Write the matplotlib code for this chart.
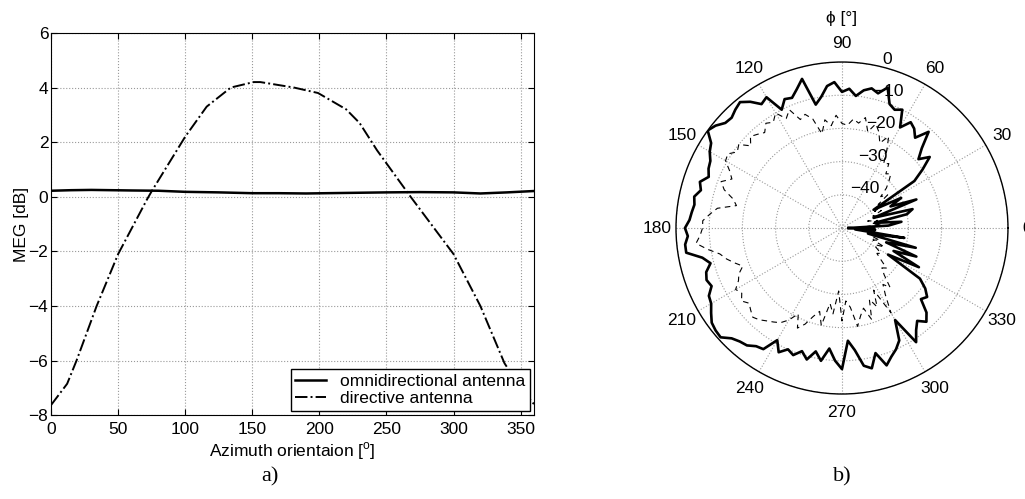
import numpy as np
import matplotlib
matplotlib.use('Agg')
import matplotlib.pyplot as plt

plt.rcParams['font.family'] = ['Liberation Sans', 'DejaVu Sans']
plt.rcParams['mathtext.fontset'] = 'custom'
plt.rcParams['mathtext.rm'] = 'Liberation Sans'

# a) MEG vs azimuth orientation
AZ_DIR = [0, 12, 19, 34, 50, 71.5, 75, 100, 116, 134, 151, 156, 181, 199,
          220, 230, 243, 268, 300, 320, 338, 350, 360]
MEG_DIR = [-7.63, -6.85, -6.0, -4.0, -2.1, -0.1, 0.2, 2.2, 3.3, 4.0, 4.2,
           4.2, 4.0, 3.8, 3.2, 2.7, 1.7, 0.0, -2.1, -4.0, -6.1, -7.0, -7.6]
AZ_OMNI = [0, 15, 30, 45, 60, 80, 100, 125, 150, 170, 190, 220, 250, 275,
           300, 320, 340, 360]
MEG_OMNI = [0.22, 0.24, 0.25, 0.24, 0.23, 0.22, 0.18, 0.16, 0.13, 0.13,
            0.12, 0.14, 0.16, 0.17, 0.16, 0.12, 0.16, 0.21]

# b) polar patterns, one value every 3 degrees (dB)
PHI_STEP = 3
GAIN_SOLID = [
    -48, -36, -32, -40, -30, -28, -40, -26, -34, -30, -39, -24, -20, -16,
    -19, -16, -11, -15, -13, -12, -15, -10, -11, -10, -5.5, -8, -7, -8,
    -10, -8, -9, -6, -7, -10, -12, -3.5, -6, -8, -7.5, -10, -4.5, -5.5,
    -3, -1.2, -2, -3, -2.7, -1, 0, -3, -4, -5.5, -6, -7, -5, -6, -4.5,
    -5, -4.5, -4, -2.7, -3.5, -2.5, -2.5, -7, -9, -7, -6.3, -7, -5, -4.5,
    -3, -1.5, -1, -0.8, -3, -4, -4.5, -6, -6.5, -11, -8, -10, -9, -11,
    -9, -12, -9.5, -13.5, -10, -7.5, -16, -13, -8, -6.8, -11, -6.5, -8.5,
    -10, -12, -18, -9, -12, -14, -12, -14, -18, -17, -19, -22, -34, -24,
    -33, -26, -36, -27, -42, -31, -46, -40]
GAIN_DASHED = [
    -40, -43, -38, -41, -39, -42, -38, -40, -37, -39, -35, -37, -33, -35,
    -32, -30, -28, -29, -26, -27, -23, -19, -22, -19, -17, -20, -16, -18,
    -17, -19, -18.5, -16, -19, -17, -21, -16, -14, -15, -11, -13, -10, -12,
    -11, -13, -12, -11, -13, -10, -11, -9, -9.5, -12, -13.7, -11, -12.7,
    -16, -17.5, -12, -10, -8, -8, -7.2, -5.8, -9, -12.4, -14, -16, -18,
    -16, -15, -13, -14, -12.6, -14, -13, -12, -12.8, -14, -15, -16, -18,
    -21, -17, -19, -22, -24, -20, -27, -24, -31, -22, -28, -26, -20, -23,
    -25, -21, -27, -24, -29, -20.5, -26, -29, -27, -31, -33, -32, -35,
    -37, -36, -38, -39, -36, -40, -38, -41, -39, -42, -40, -43]

FS = 12.5


def main():
    fig = plt.figure(figsize=(10.25, 4.99), dpi=100)

    ax = fig.add_axes([0.0498, 0.168, 0.4712, 0.766])
    ax.plot(AZ_OMNI, MEG_OMNI, 'k-', lw=1.8, label='omnidirectional antenna')
    ax.plot(AZ_DIR, MEG_DIR, 'k-.', lw=1.4, label='directive antenna')
    ax.set_xlim(0, 360)
    ax.set_ylim(-8, 6)
    ax.set_xticks(range(0, 360, 50))
    ax.set_yticks(range(-8, 7, 2))
    ax.tick_params(direction='in', top=True, right=True, labelsize=FS,
                   length=4, pad=2)
    ax.tick_params(axis='x', pad=5)
    ax.grid(True, ls=':', color='#999999', lw=0.8)
    ax.set_xlabel('Azimuth orientaion [$^{\\mathrm{o}}$]', fontsize=FS,
                  labelpad=2)
    ax.set_ylabel('MEG [dB]', fontsize=FS, labelpad=0)
    leg = ax.legend(loc='lower right', fontsize=FS, fancybox=False,
                    edgecolor='k', framealpha=1, handlelength=1.8,
                    borderaxespad=0.25, borderpad=0.25, labelspacing=0.15,
                    handletextpad=0.8)
    leg.get_frame().set_linewidth(1.0)

    # b) polar plot
    phi = np.deg2rad(np.arange(0, 360 + PHI_STEP, PHI_STEP))
    solid = np.array(GAIN_SOLID + GAIN_SOLID[:1])
    dashed = np.array(GAIN_DASHED + GAIN_DASHED[:1])

    pax = fig.add_axes([0.6595, 0.2104, 0.3239, 0.6653], projection='polar')
    pax.plot(phi, solid, 'k-', lw=1.9)
    pax.plot(phi, dashed, 'k--', lw=0.8, dashes=(5, 4))
    pax.set_ylim(-50, 0)
    pax.set_yticks([-40, -30, -20, -10, 0])
    pax.set_yticklabels(['\u221240', '\u221230', '\u221220', '\u221210', '0'])
    pax.set_rlabel_position(76)
    pax.set_xticks(np.deg2rad(np.arange(0, 360, 30)))
    pax.set_xticklabels([str(a) for a in range(0, 360, 30)])
    pax.tick_params(axis='x', labelsize=FS, pad=3)
    pax.tick_params(axis='y', labelsize=FS)
    pax.grid(True, ls=':', color='#999999', lw=0.8)
    pax.spines['polar'].set_linewidth(1.0)

    fig.text(842 / 1025, 1 - 18 / 499, '\u03d5 [\u00b0]', ha='center',
             va='center', fontsize=FS)
    fig.text(270 / 1025, 1 - 477 / 499, 'a)', ha='center', va='center',
             fontsize=16, family='Liberation Serif')
    fig.text(842 / 1025, 1 - 477 / 499, 'b)', ha='center', va='center',
             fontsize=16, family='Liberation Serif')

    fig.savefig('out.png', dpi=100)


if __name__ == '__main__':
    main()
